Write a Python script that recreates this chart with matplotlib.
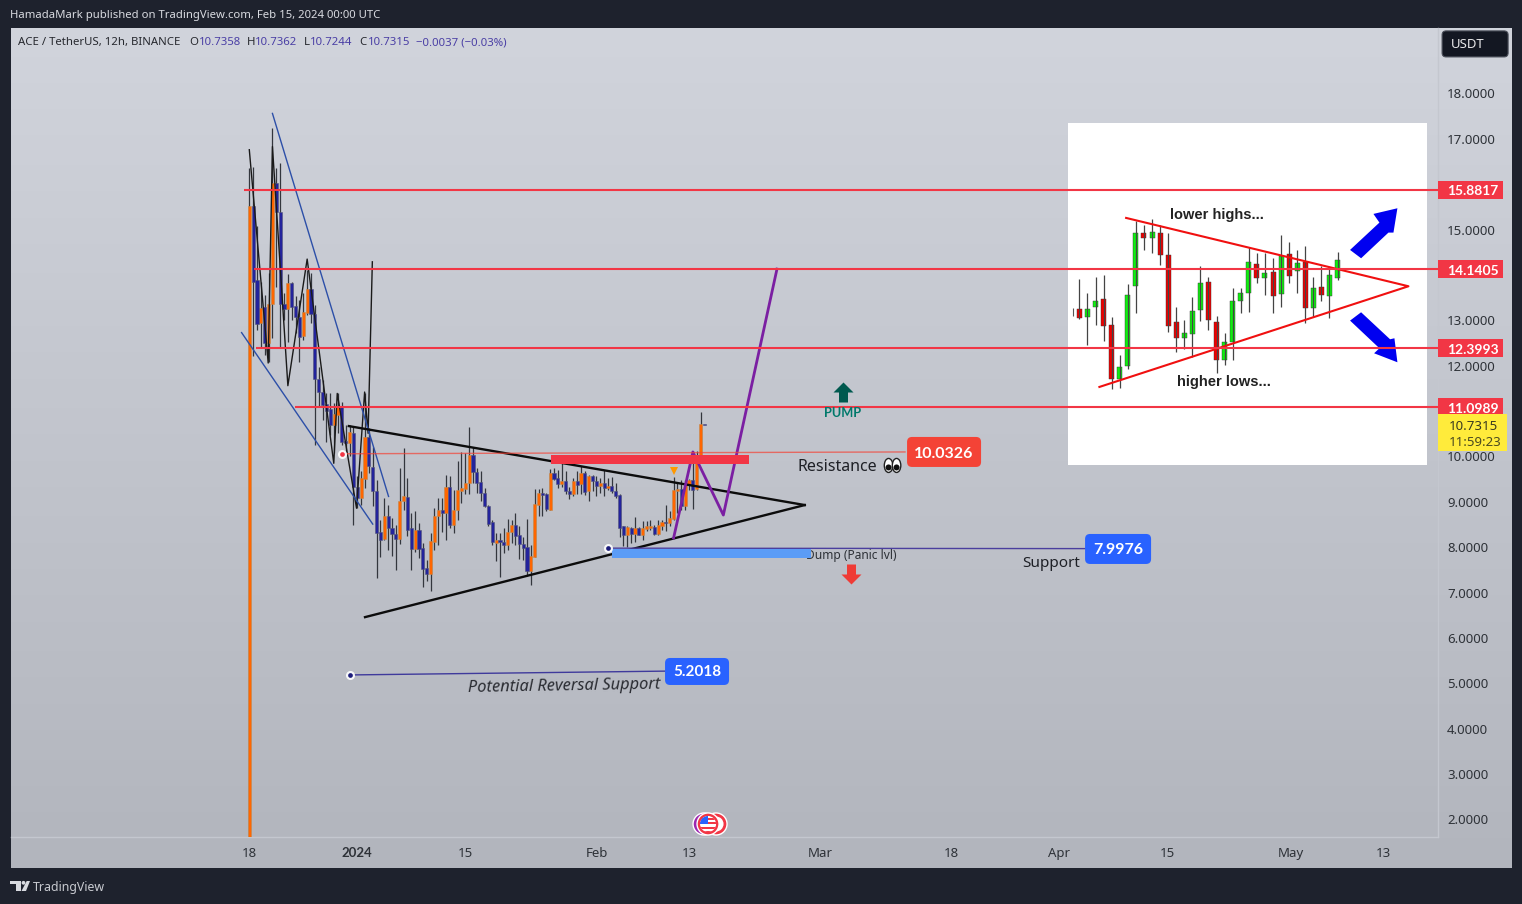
import numpy as np
import matplotlib
matplotlib.use('Agg')
import matplotlib.pyplot as plt
from matplotlib.patches import Rectangle, FancyBboxPatch, Polygon, Circle, Ellipse

plt.rcParams['font.family'] = ['Noto Sans', 'DejaVu Sans']
BOLD = 'Lato'

# ACE/USDT 12h candles
opens = [1.0, 15.53, 13.90, 12.95, 13.30, 12.52, 13.37, 16.03, 15.39, 13.37,
         13.26, 13.83, 13.33, 13.09, 12.67, 13.18, 13.70, 13.15, 11.71, 11.44,
         11.17, 11.05, 10.71, 10.93, 11.12, 10.36, 10.30, 10.52, 9.33, 9.10,
         9.51, 10.43, 9.77, 9.24, 8.35, 8.19, 8.70, 8.43, 8.30, 8.20,
         9.04, 9.12, 8.43, 7.98, 8.39, 7.99, 7.55, 7.43, 8.13, 8.69,
         8.83, 8.77, 9.33, 8.50, 8.83, 9.26, 9.29, 9.42, 10.04, 9.67,
         9.45, 9.21, 8.92, 8.57, 8.11, 8.17, 8.13, 8.05, 8.34, 8.49,
         8.27, 8.08, 8.01, 7.49, 7.80, 8.94, 9.20, 9.19, 8.83, 9.64,
         9.53, 9.41, 9.47, 9.25, 9.19, 9.46, 9.41, 9.64, 9.24, 9.58,
         9.47, 9.37, 9.42, 9.32, 9.36, 9.25, 9.16, 8.47, 8.27, 8.44,
         8.30, 8.43, 8.28, 8.41, 8.44, 8.45, 8.30, 8.48, 8.57, 8.55,
         8.63, 9.26, 9.29, 8.92, 9.41, 9.49, 9.29, 9.95, 10.7358]
closes = [15.53, 13.86, 12.93, 13.28, 12.52, 13.37, 16.03, 15.39, 13.37, 13.26,
          13.83, 13.31, 13.09, 12.65, 13.19, 13.70, 13.15, 11.71, 11.44, 11.15,
          11.02, 10.71, 10.94, 11.12, 10.34, 10.30, 10.56, 9.33, 9.10, 9.53,
          10.43, 9.79, 9.24, 8.33, 8.17, 8.70, 8.43, 8.30, 8.20, 9.03,
          9.13, 8.39, 7.98, 8.39, 7.98, 7.53, 7.43, 8.15, 8.70, 8.83,
          8.77, 9.33, 8.50, 8.83, 9.27, 9.32, 9.42, 10.04, 9.66, 9.43,
          9.21, 8.91, 8.52, 8.13, 8.17, 8.13, 8.05, 8.35, 8.50, 8.26,
          8.08, 8.00, 7.49, 7.82, 8.96, 9.20, 9.19, 8.85, 9.64, 9.52,
          9.41, 9.46, 9.24, 9.19, 9.46, 9.38, 9.64, 9.23, 9.58, 9.46,
          9.36, 9.42, 9.32, 9.33, 9.24, 9.14, 8.44, 8.27, 8.45, 8.30,
          8.43, 8.28, 8.43, 8.48, 8.47, 8.30, 8.50, 8.57, 8.55, 8.66,
          9.27, 9.29, 8.92, 9.42, 9.49, 9.27, 9.95, 10.73, 10.7315]
highs = [16.36, 16.40, 15.09, 13.86, 13.57, 14.05, 17.24, 16.36, 16.47, 13.61,
         14.03, 13.86, 13.55, 13.46, 13.61, 14.12, 14.05, 13.35, 11.99, 11.70,
         11.40, 11.40, 11.18, 11.40, 11.22, 10.71, 10.71, 10.67, 9.57, 9.68,
         11.40, 10.63, 10.23, 9.49, 8.60, 9.09, 8.94, 8.65, 8.50, 9.75,
         10.19, 9.53, 8.76, 8.80, 8.54, 8.10, 7.73, 8.32, 8.87, 9.09,
         9.09, 9.60, 9.58, 9.27, 9.90, 10.10, 10.08, 10.65, 10.23, 9.75,
         9.68, 9.31, 8.93, 8.61, 8.32, 8.32, 8.43, 8.63, 8.61, 8.76,
         8.48, 8.24, 8.63, 8.06, 9.29, 9.29, 9.31, 9.20, 9.73, 9.75,
         9.71, 9.90, 9.68, 9.33, 9.53, 9.68, 9.80, 9.68, 9.60, 9.60,
         9.57, 9.53, 9.71, 9.53, 9.55, 9.42, 9.18, 8.48, 8.48, 8.46,
         8.67, 8.46, 8.58, 8.58, 8.60, 8.50, 8.60, 8.61, 8.94, 8.80,
         9.55, 9.42, 9.49, 9.49, 9.51, 10.12, 10.12, 10.98, 10.7362]
lows = [1.0, 12.23, 12.80, 12.42, 12.25, 12.10, 12.62, 13.75, 12.40, 13.02,
        12.54, 13.02, 12.73, 12.10, 12.58, 13.13, 12.95, 10.27, 11.12, 10.82,
        10.32, 10.49, 10.08, 10.52, 10.27, 10.08, 10.01, 8.50, 8.87, 8.94,
        9.31, 9.64, 8.91, 7.33, 7.80, 8.17, 7.95, 7.82, 7.51, 8.08,
        8.83, 8.25, 7.51, 7.90, 7.77, 7.13, 7.26, 7.05, 7.95, 8.06,
        8.35, 8.17, 8.43, 8.32, 8.61, 8.98, 9.19, 9.19, 9.42, 9.20,
        9.02, 8.89, 8.47, 8.06, 7.71, 7.36, 7.89, 7.95, 8.10, 8.06,
        7.75, 7.73, 7.38, 7.18, 7.80, 8.69, 8.70, 8.80, 8.82, 9.49,
        9.31, 9.33, 9.19, 9.08, 9.13, 9.19, 9.19, 9.16, 9.03, 9.24,
        9.13, 9.20, 9.13, 9.27, 9.20, 9.09, 8.24, 8.04, 8.01, 8.10,
        8.13, 8.27, 8.17, 8.36, 8.39, 8.28, 8.28, 8.38, 8.36, 8.47,
        8.60, 8.76, 8.82, 8.82, 9.27, 8.86, 9.27, 9.93, 10.7244]

# axis labels, x is the bar number (two bars a day from Dec 18)
time_ticks = [0, 28, 56, 90, 114, 148, 182, 210, 238, 270, 294]
time_labels = ['18', '2024', '15', 'Feb', '13', 'Mar', '18', 'Apr', '15', 'May', '13']
# 16, 14 and 11 are hidden behind the level tags in the original
price_ticks = [18, 17, 15, 13, 12, 10, 9, 8, 7, 6, 5, 4, 3, 2]

# horizontal levels
level_prices = [15.8817, 14.1405, 12.3993, 11.0989]
level_starts = [-1.4, 1.2, 1.7, 11.9]

# thin black swing line drawn over the first candles
zigzag_bars = [0, 4.9, 6, 10, 15, 21.9, 22.8, 27.8, 29.9, 30.8, 31.9]
zigzag_prices = [16.77, 12.07, 16.84, 11.57, 14.36, 9.86, 11.40, 8.87, 11.43, 10.52, 14.30]

# purple projection
path_bars = [110, 115, 122.9, 136.8]
path_prices = [8.215, 10.11, 8.72, 14.14]

# the pasted pennant picture, no scale on it so y is just height in its own units
in_tops = [358, 358, 334, 328, 405, 532, 316, 130, 130, 127, 128, 195, 397, 428, 362, 278, 276,
           397, 457, 334, 310, 217, 223, 250, 245, 197, 193, 218, 217, 295, 292, 254, 210]
in_bots = [383, 380, 350, 409, 568, 566, 529, 287, 144, 144, 194, 409, 444, 444, 431, 361, 389,
           511, 511, 457, 334, 310, 265, 265, 317, 311, 259, 244, 353, 355, 314, 317, 263]
in_highs = [268, 310, 260, 255, 380, 495, 283, 92, 105, 87, 105, 128, 350, 390, 320, 227, 262,
            378, 430, 295, 295, 172, 190, 188, 205, 135, 157, 180, 168, 262, 228, 230, 187]
in_lows = [388, 465, 405, 453, 597, 595, 537, 368, 180, 190, 225, 427, 485, 478, 500, 393, 420,
           550, 525, 510, 370, 365, 280, 315, 368, 352, 280, 308, 398, 382, 333, 383, 270]
in_green = [0, 1, 1, 0, 0, 1, 1, 1, 0, 1, 0, 0, 0, 1, 1, 1, 0,
            0, 1, 1, 1, 1, 0, 1, 0, 1, 0, 1, 0, 1, 0, 1, 1]

W, H = 1522, 904
# the small extra keeps 9.04*100 from rounding down to 903 rows
fig = plt.figure(figsize=((W + 0.1) / 100, (H + 0.1) / 100), dpi=100, facecolor='#1e222d')


def box(x0, y0, x1, y1):
    return [x0 / W, 1 - y1 / H, (x1 - x0) / W, (y1 - y0) / H]


# background gradient of the whole pane
bg = fig.add_axes(box(11, 28, 1511, 868), zorder=0)
grad = np.linspace(0, 1, 256).reshape(-1, 1)
c0 = np.array([0xd1, 0xd4, 0xdc]) / 255
c1 = np.array([0xb2, 0xb5, 0xbd]) / 255
bg.imshow(c0 + (c1 - c0) * grad[:, :, None], aspect='auto')
bg.axis('off')

# pennant picture
ins = fig.add_axes(box(1068, 123, 1427, 465), zorder=1, facecolor='white')
ins.set_xlim(-1.405, 43.1)
ins.set_ylim(825, -201)
ins.set_xticks([])
ins.set_yticks([])
for s in ins.spines.values():
    s.set_visible(False)
ix = np.arange(len(in_tops))
ins.vlines(ix, in_highs, in_lows, color='#444444', lw=0.9)
ins.vlines([-0.75], [355], [378], color='#555555', lw=0.8)
ins.bar(ix, np.array(in_bots) - np.array(in_tops), bottom=in_tops, width=0.62,
        color=['#10ee10' if g else '#ee0000' for g in in_green], edgecolor='#333333', lw=0.3)
ins.plot([5.79, 40.79, 2.48], [84, 289, 591], color='#f01010', lw=1.5)
ins.text(17, 75, 'lower highs...', ha='center', va='center', fontsize=10.5, fontweight='bold',
         family='Liberation Sans', color='#222222')
ins.text(17.9, 577, 'higher lows...', ha='center', va='center', fontsize=10.5, fontweight='bold',
         family='Liberation Sans', color='#222222')
ins.add_patch(Polygon([(33.55, 180), (37.19, 98), (36.45, 72), (39.42, 55), (38.93, 128),
                       (38.31, 128), (34.92, 205)], color='#0000f0', lw=0))
ins.add_patch(Polygon([(33.55, 392), (37.19, 475), (36.53, 490), (39.42, 517), (39.05, 445),
                       (38.51, 448), (34.92, 367)], color='#0000f0', lw=0))

# main chart
ax = fig.add_axes(box(11, 28, 1438, 837), zorder=2, facecolor='none')
ax.set_xlim(-61.78, 308.2)
ax.set_ylim(1.625, 19.4546)
for s in ax.spines.values():
    s.set_visible(False)
ax.set_yticks([])
ax.set_xticks(time_ticks)
ax.set_xticklabels(time_labels)
ax.tick_params(axis='x', length=0, pad=7, labelsize=9.5, labelcolor='#2e3238')
ax.axhline(1.625, color='#c4c7cf', lw=1, clip_on=False)
ax.axvline(308.2, color='#c4c7cf', lw=1, clip_on=False)

bars = np.arange(len(opens))
o = np.array(opens)
c = np.array(closes)
ups = c >= o
ax.vlines(bars, lows, highs, color='#33363d', lw=0.9, zorder=3)
ax.bar(bars[ups], np.maximum((c - o)[ups], 0.03), bottom=o[ups], width=0.8, color='#ff6600',
       edgecolor='#c08a50', lw=0.4, zorder=4)
ax.bar(bars[~ups], np.minimum((c - o)[~ups], -0.03), bottom=o[~ups], width=0.8, color='#23239c',
       edgecolor='#55557a', lw=0.4, zorder=4)

ax.plot(zigzag_bars, zigzag_prices, color='#1a1a1a', lw=1.0, zorder=5)
ax.plot([6, 36.1], [17.57, 9.13], color='#2c4fa8', lw=1.0, zorder=5)
ax.plot([-2, 32], [12.74, 8.52], color='#2c4fa8', lw=1.0, zorder=5)

# triangle
ax.plot([25.8, 144], [10.68, 8.94], color='#0c0c0c', lw=1.7, zorder=5)
ax.plot([30, 144], [6.47, 8.94], color='#0c0c0c', lw=1.7, zorder=5)

ax.plot(path_bars, path_prices, color='#7b1fa2', lw=2.0, zorder=6)

for p, x0 in zip(level_prices, level_starts):
    ax.hlines(p, x0, 308.2, color='#f23645', lw=1.5, zorder=7)

# zones. the blue one sits on top of the Dump text
ax.add_patch(Rectangle((78.2, 9.85), 51.4, 0.19, color='#f23645', lw=0, zorder=6))
ax.plot([24, 170], [10.07, 10.11], color='#f44336', lw=1, alpha=0.7, zorder=6)
ax.plot([93, 216.7], [7.99, 7.98], color='#4b3f9e', lw=1, zorder=6)
ax.plot([26.1, 107.7], [5.196, 5.28], color='#3f3a9c', lw=1, zorder=6)
ax.text(144.3, 7.84, 'Dump (Panic lvl)', fontsize=8.6, color='#2e3238', va='center', zorder=6)
ax.add_patch(Rectangle((94, 7.78), 51.6, 0.19, color='#5b9cf6', lw=0, zorder=7))

for bx, py, col in [(24, 10.07, '#f23645'), (93, 7.99, '#1c1c7a'), (26.1, 5.196, '#1c1c7a')]:
    ax.plot([bx], [py], 'o', ms=6.5, mfc='white', mec='none', alpha=0.9, zorder=8)
    ax.plot([bx], [py], 'o', ms=3.4, mfc=col, mec='none', zorder=9)

arrow = [(-1, 0), (0, 1), (1, 0), (0.45, 0), (0.45, -1), (-0.45, -1), (-0.45, 0)]
ax.plot([153.9], [11.43], marker=arrow, ms=14.4, color='#00594f', mew=0, ls='none', zorder=8)
ax.plot([156], [7.43], marker=[(x, -y) for x, y in arrow], ms=14.4, color='#ef3b36', mew=0, ls='none', zorder=8)
ax.plot([110.0], [9.68], marker='v', ms=5.5, color='#ff9800', mew=0, ls='none', zorder=8)

# price scale
pr = fig.add_axes(box(1438, 28, 1511, 837), zorder=3, facecolor='none')
pr.set_xlim(1438, 1511)
pr.set_ylim(ax.get_ylim())
pr.axis('off')
for p in price_ticks:
    pr.text(1447, p - 0.02, f'{p:.4f}', fontsize=9.5, color='#2e3238', va='center', ha='left')
for p in level_prices:
    pr.add_patch(Rectangle((1438, p - 0.2), 65, 0.4, color='#f23645', lw=0))
    pr.text(1447, p - 0.03, f'{p:.4f}', fontsize=10, fontweight='bold', family=BOLD, color='white', va='center', ha='left')
pr.add_patch(Rectangle((1438, 10.13), 69, 0.82, color='#ffeb3b', lw=0, zorder=4))
pr.text(1448.5, 10.67, '10.7315', fontsize=9.5, color='#3a3a20', va='center', zorder=5)
pr.text(1448.5, 10.33, '11:59:23', fontsize=9.5, color='#4a4a20', va='center', zorder=5)

# chrome and labels in plain pixels
ov = fig.add_axes([0, 0, 1, 1], zorder=5, facecolor='none')
ov.set_xlim(0, W)
ov.set_ylim(H, 0)
ov.axis('off')
ov.text(10, 15.5, 'HamadaMark published on TradingView.com, Feb 15, 2024 00:00 UTC', fontsize=8.15,
        color='#d8dae0', va='center')
ov.text(18, 42.5, 'ACE / TetherUS, 12h, BINANCE', fontsize=8.2, color='#26282e', va='center')
for lx, lab, vx, val in [(189, 'O', 198.7, '10.7358'), (247, 'H', 255, '10.7362'),
                         (304, 'L', 310, '10.7244'), (359, 'C', 368, '10.7315')]:
    ov.text(lx, 42.5, lab, fontsize=8.2, color='#26282e', va='center')
    ov.text(vx, 42.5, val, fontsize=8.2, color='#4a3fa5', va='center')
ov.text(416, 42.5, '−0.0037 (−0.03%)', fontsize=8.2, color='#4a3fa5', va='center')

ov.add_patch(FancyBboxPatch((1445, 34), 60, 20, boxstyle='round,pad=3,rounding_size=4',
                            fc='#131722', ec='#4a4e59', lw=0.8))
ov.text(1451, 44.5, 'USDT', fontsize=9.5, color='#e8e8ea', va='center')

ov.add_patch(FancyBboxPatch((912, 442), 64, 20, boxstyle='round,pad=5,rounding_size=5', fc='#f44336', ec='none'))
ov.text(944, 453.5, '10.0326', fontsize=11.5, fontweight='bold', family=BOLD, color='white', ha='center', va='center')
ov.add_patch(FancyBboxPatch((1090, 539), 56, 20, boxstyle='round,pad=5,rounding_size=5', fc='#2962ff', ec='none'))
ov.text(1118, 550, '7.9976', fontsize=11.5, fontweight='bold', family=BOLD, color='white', ha='center', va='center')
ov.add_patch(FancyBboxPatch((670, 663), 54, 17, boxstyle='round,pad=5,rounding_size=5', fc='#2962ff', ec='none'))
ov.text(697, 672, '5.2018', fontsize=11, fontweight='bold', family=BOLD, color='white', ha='center', va='center')

ov.text(797, 466.5, 'Resistance', fontsize=11.5, color='#1e2026', va='center')
ov.text(1022, 563, 'Support', fontsize=11, color='#1e2026', va='center')
ov.text(468, 688, 'Potential Reversal Support', fontsize=11.85, style='italic', color='#2a2c32', va='center',
        rotation=1, rotation_mode='anchor')
ov.text(843, 413, 'PUMP', fontsize=9.2, fontweight='bold', family=BOLD, color='#00796b', ha='center', va='center')

# eyes
for ex in [888.5, 896.5]:
    ov.add_patch(Ellipse((ex, 465.5), 8.5, 14, fc='white', ec='#222222', lw=1))
    ov.add_patch(Circle((ex, 467.5), 3, fc='#111111', ec='none'))

# event flags
ov.add_patch(Circle((704, 824), 11, fc='#9c27b0', ec='white', lw=1))
ov.add_patch(Circle((716, 824), 11, fc='#f23645', ec='white', lw=1))
ov.add_patch(Circle((716, 824), 7.5, fc='white', ec='none'))
ov.add_patch(Circle((708, 824), 11, fc='#f23645', ec='white', lw=1))
flag_bg = Circle((708, 824), 8, fc='white', ec='none')
ov.add_patch(flag_bg)
for sy in [818, 822.5, 827, 831]:
    st = Rectangle((699, sy), 18, 2, fc='#f23645', ec='none')
    ov.add_patch(st)
    st.set_clip_path(flag_bg)
can = Rectangle((700, 816), 8, 8, fc='#2962ff', ec='none')
ov.add_patch(can)
can.set_clip_path(flag_bg)

# footer logo
ov.add_patch(Polygon([(10, 881), (20.7, 881), (20.7, 891), (16, 891), (16, 884.5), (10, 884.5)], color='#d8dae0', lw=0))
ov.add_patch(Circle((23.5, 882.8), 1.9, color='#d8dae0', lw=0))
ov.add_patch(Polygon([(26.7, 881), (30, 881), (26, 891), (21.5, 891)], color='#d8dae0', lw=0))
ov.text(33, 887, 'TradingView', fontsize=8.9, color='#c8cad0', va='center')

# bold year on the time scale, Noto Sans has no bold cut here
yr = ax.xaxis.get_major_ticks()[1].label1
yr.set_fontweight('bold')
yr.set_family(BOLD)

fig.savefig('out.png', dpi=100, facecolor=fig.get_facecolor())
